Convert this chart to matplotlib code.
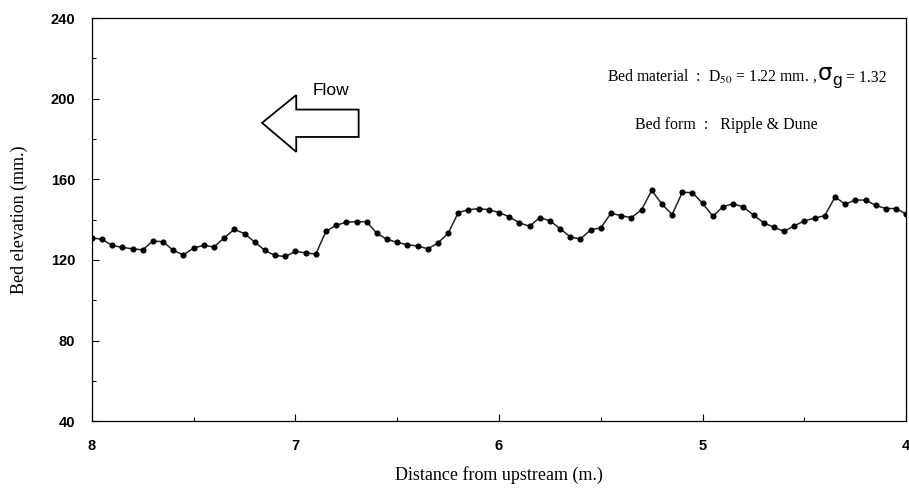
import matplotlib
matplotlib.use('Agg')
import matplotlib.pyplot as plt
from matplotlib.patches import Polygon
from matplotlib.ticker import MultipleLocator

plt.rcParams['mathtext.fontset'] = 'stix'

# distance from upstream (m.) and bed elevation (mm.)
distance = [8.00, 7.95, 7.90, 7.85, 7.80, 7.75, 7.70, 7.65, 7.60, 7.55,
            7.50, 7.45, 7.40, 7.35, 7.30, 7.25, 7.20, 7.15, 7.10, 7.05,
            7.00, 6.95, 6.90, 6.85, 6.80, 6.75, 6.70, 6.65, 6.60, 6.55,
            6.50, 6.45, 6.40, 6.35, 6.30, 6.25, 6.20, 6.15, 6.10, 6.05,
            6.00, 5.95, 5.90, 5.85, 5.80, 5.75, 5.70, 5.65, 5.60, 5.55,
            5.50, 5.45, 5.40, 5.35, 5.30, 5.25, 5.20, 5.15, 5.10, 5.05,
            5.00, 4.95, 4.90, 4.85, 4.80, 4.75, 4.70, 4.65, 4.60, 4.55,
            4.50, 4.45, 4.40, 4.35, 4.30, 4.25, 4.20, 4.15, 4.10, 4.05,
            4.00]
elevation = [131.0, 130.2, 127.2, 126.2, 125.5, 125.0, 129.4, 129.0, 124.7, 122.5,
             125.9, 127.2, 126.4, 130.9, 135.2, 133.0, 128.9, 124.7, 122.2, 121.7,
             124.2, 123.5, 122.9, 134.2, 137.2, 138.7, 139.0, 138.9, 133.2, 130.2,
             128.7, 127.5, 126.9, 125.5, 128.4, 133.2, 143.5, 144.9, 145.4, 144.9,
             143.5, 141.4, 138.4, 136.7, 141.0, 139.4, 135.5, 131.4, 130.4, 134.9,
             135.9, 143.2, 141.9, 141.0, 144.9, 154.5, 147.7, 142.5, 153.5, 153.4,
             148.0, 141.7, 146.4, 147.9, 146.2, 142.2, 138.4, 136.2, 134.2, 136.9,
             139.4, 140.7, 142.0, 151.2, 147.7, 149.7, 149.7, 147.0, 145.5, 145.5,
             142.7]

fig = plt.figure(figsize=(9.09, 4.88), dpi=100)
ax = fig.add_axes([0.101, 0.137, 0.896, 0.826])

ax.plot(distance, elevation, color='#222222', lw=1.1, marker='o', ms=3.4,
        mfc='black', mec='black')

ax.set_xlim(8, 4)
ax.set_ylim(40, 240)
ax.xaxis.set_major_locator(MultipleLocator(1))
ax.xaxis.set_minor_locator(MultipleLocator(0.5))
ax.yaxis.set_major_locator(MultipleLocator(40))
ax.yaxis.set_minor_locator(MultipleLocator(20))
ax.tick_params(which='both', direction='in', width=0.8)
ax.tick_params(which='major', length=5)
ax.tick_params(which='minor', length=3)
ax.tick_params(axis='x', pad=13)
ax.tick_params(axis='y', pad=12)
for lab in ax.get_xticklabels() + ax.get_yticklabels():
    lab.set_fontfamily('Liberation Sans')
    lab.set_fontweight('bold')
    lab.set_fontsize(10.5)
for sp in ax.spines.values():
    sp.set_linewidth(0.9)

ax.set_xlabel('Distance from upstream (m.)', family='Liberation Serif',
              fontsize=13, labelpad=9)
ax.set_ylabel('Bed elevation (mm.)', family='Liberation Serif',
              fontsize=13, labelpad=16)

# flow arrow
arrow = [(0.209, 0.740), (0.251, 0.809), (0.251, 0.773), (0.3276, 0.773),
         (0.3276, 0.705), (0.251, 0.705), (0.251, 0.668)]
ax.add_patch(Polygon(arrow, closed=True, transform=ax.transAxes,
                     facecolor='white', edgecolor='black', lw=1.3))
ax.text(0.293, 0.821, 'Flow', transform=ax.transAxes, ha='center',
        va='center', family='Liberation Sans', fontsize=12.5)

# bed material text
t1 = ax.text(0.632, 0.845, r'Bed material  :  D$_{50}$ = 1.22 mm. , ',
             transform=ax.transAxes, ha='left', va='baseline',
             family='Liberation Serif', fontsize=11.3)
t2 = ax.annotate('σ', xy=(1, 0), xycoords=t1, va='bottom', ha='left',
                 family='DejaVu Sans', fontsize=16.5)
t3 = ax.annotate('g', xy=(1, -0.12), xycoords=t2, va='bottom', ha='left',
                 family='Liberation Sans', fontsize=12.5)
ax.annotate(' = 1.32', xy=(1, 0.12), xycoords=t3, va='bottom', ha='left',
            family='Liberation Serif', fontsize=11.3)
ax.text(0.779, 0.734, 'Bed form  :   Ripple & Dune', transform=ax.transAxes,
        ha='center', va='center', family='Liberation Serif', fontsize=11.5)

fig.savefig('out.png', dpi=100)
